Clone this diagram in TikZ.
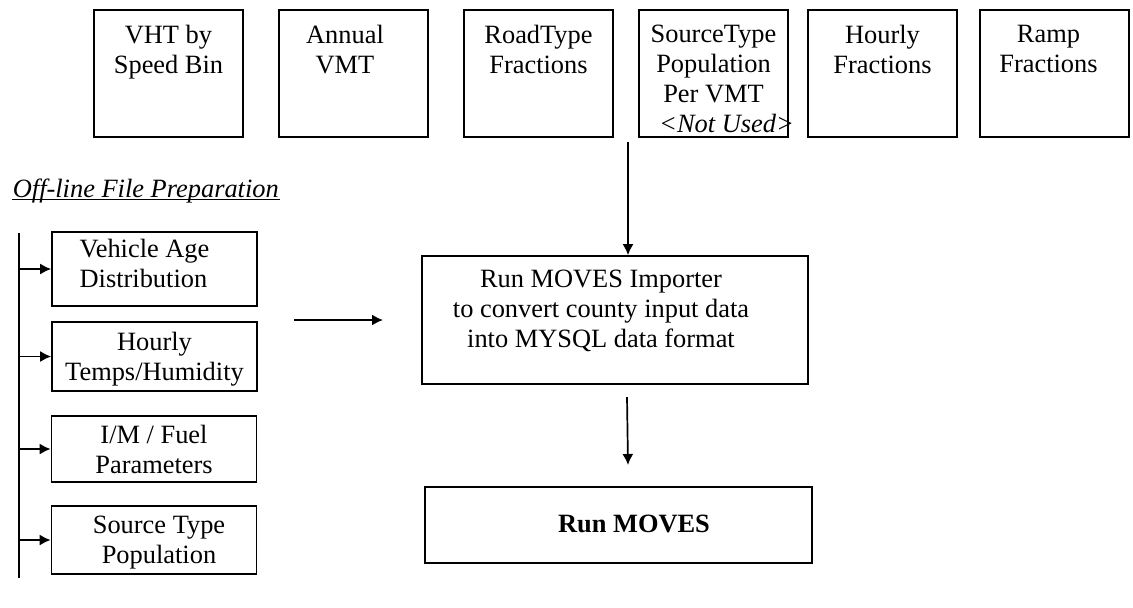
\documentclass[tikz,border=0pt]{standalone}
\usepackage{fontspec}
\setmainfont{Liberation Serif}
\usepackage{tikz}
\usetikzlibrary{arrows.meta,calc}

\begin{document}
\begin{tikzpicture}[x=0.5pt,y=-0.5pt,line width=0.85pt,
  font=\fontsize{13.2}{15}\selectfont,
  topbox/.style={draw,inner sep=0pt,minimum width=74.5pt,minimum height=63.5pt},
  sidebox/.style={draw,inner sep=0pt,minimum width=102.5pt},
  mainbox/.style={draw,inner sep=0pt,minimum width=193.5pt},
  toptext/.style={anchor=north,align=center,inner sep=0pt,yshift=-7.5pt},
  boxtext/.style={align=center,inner sep=0pt},
  arr/.style={-{Latex[length=5.5pt,width=5.5pt]}}]
\useasboundingbox (0,0) rectangle (1133,607);

\node[topbox,label={[toptext]north:{VHT by\\Speed Bin}}] (vht) at (168.5,73.5) {};
\node[topbox,label={[toptext,xshift=-4.25pt]north:{Annual\\VMT}}] (vmt) at (353.5,73.5) {};
\node[topbox,label={[toptext]north:{RoadType\\Fractions}}] (roadtype) at (538.5,73.5) {};
\node[topbox,label={[toptext]north:{SourceType\\Population\\Per VMT\\\hspace*{13pt}\textit{<Not Used>}}}] (srcpervmt) at (713.5,73.5) {};
\node[topbox,label={[toptext]north:{Hourly\\Fractions}}] (hourly) at (882.5,73.5) {};
\node[topbox,label={[toptext,xshift=-3pt]north:{Ramp\\Fractions}}] (ramp) at (1054.5,73.5) {};

\node[anchor=base west,inner sep=0pt,text depth=1pt] (offline) at (12,197) {\textit{Off-line File Preparation}};
\draw[line width=0.6pt] (offline.south west) -- (offline.south east);

\node[sidebox,minimum height=37pt,label={[boxtext,align=left,xshift=-5pt,yshift=2.75pt]center:{Vehicle Age\\Distribution}}] (agedist) at (154.5,269) {};
\node[sidebox,minimum height=34.5pt,label={[boxtext,yshift=-1.5pt]center:{Hourly\\Temps/Humidity}}] (temps) at (154.5,356.5) {};
\node[sidebox,minimum height=33pt,label={[boxtext]center:{I/M / Fuel\\Parameters}}] (imfuel) at (154,449) {};
\node[sidebox,minimum height=34pt,label={[boxtext,xshift=2.5pt,yshift=-1.5pt]center:{Source Type\\Population}}] (srcpop) at (154,540) {};

\node[mainbox,minimum width=193pt,minimum height=64pt,label={[boxtext,xshift=-7pt,yshift=4.5pt]center:{Run MOVES Importer\\to convert county input data\\into MYSQL data format}}] (importer) at (615,320) {};
\node[mainbox,minimum height=38pt,label={[boxtext,xshift=7.75pt,yshift=0.5pt]center:{\textbf{Run MOVES}}}] (runmoves) at (618.5,525) {};

\coordinate (feed) at (628,142);
\coordinate (prep-out) at (294,320);
\coordinate (prep-in) at (383,320);
\coordinate (imp-out) at (627,397);
\coordinate (run-in) at (628,465);
\coordinate (bus-top) at (19,233);
\coordinate (bus-bot) at (19,578);

\draw[arr] (feed) -- (feed |- importer.north);
\draw[arr] (prep-out) -- (prep-in);
\draw[arr] (imp-out) -- (run-in);

\draw (bus-top) -- (bus-bot);
\draw[arr] (bus-top |- agedist.west) -- (agedist.west);
\draw[arr] (bus-top |- temps.west) -- (temps.west);
\draw[arr] (bus-top |- imfuel.west) -- (imfuel.west);
\draw[arr] (bus-top |- srcpop.west) -- (srcpop.west);
\end{tikzpicture}
\end{document}
